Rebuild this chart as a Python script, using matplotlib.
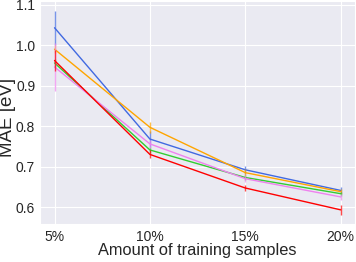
import matplotlib
matplotlib.use("Agg")
import matplotlib.pyplot as plt
import seaborn as sns
import numpy as np

sns.set_style("darkgrid")
plt.rcParams['font.family'] = ['Liberation Sans', 'DejaVu Sans']

samples = [5, 10, 15, 20]
tick_labels = ["5%", "10%", "15%", "20%"]

blue = [1.043, 0.768, 0.692, 0.641]
blue_err = [0.042, 0.02, 0.01, 0.008]
orange = [0.990, 0.797, 0.685, 0.638]
orange_err = [0.01, 0.013, 0.008, 0.006]
green = [0.956, 0.741, 0.673, 0.633]
green_err = [0.01, 0.008, 0.006, 0.005]
violet = [0.946, 0.756, 0.670, 0.625]
violet_err = [0.06, 0.01, 0.008, 0.008]
red = [0.962, 0.730, 0.647, 0.593]
red_err = [0.025, 0.01, 0.008, 0.012]

fig = plt.figure(figsize=(3.56, 2.62), dpi=100)
ax = fig.add_axes([0.113, 0.145, 0.884, 0.851])

series = [(blue, blue_err, "royalblue"), (orange, orange_err, "orange"),
          (green, green_err, "limegreen"), (violet, violet_err, "violet"),
          (red, red_err, "red")]
for vals, err, c in series:
    ax.plot(samples, vals, color=c, lw=1)
    ax.errorbar(samples, vals, yerr=err, fmt="none", ecolor=c, elinewidth=1, alpha=0.7)

ax.set_xticks(samples)
ax.set_xticklabels(tick_labels)
ax.set_xlim(4.25, 20.75)
ax.set_ylim(0.558, 1.109)
ax.set_yticks([0.6, 0.7, 0.8, 0.9, 1.0, 1.1])
ax.tick_params(labelsize=10, length=0)
ax.tick_params(axis="y", pad=3.6)
ax.tick_params(axis="x", pad=4.3)
ax.set_xlabel("Amount of training samples", fontsize=11.8)
ax.set_ylabel("MAE [eV]", fontsize=13.5)
ax.xaxis.set_label_coords(0.5, -0.085)
ax.yaxis.set_label_coords(-0.078, 0.48)

fig.savefig("out.png", dpi=100)
